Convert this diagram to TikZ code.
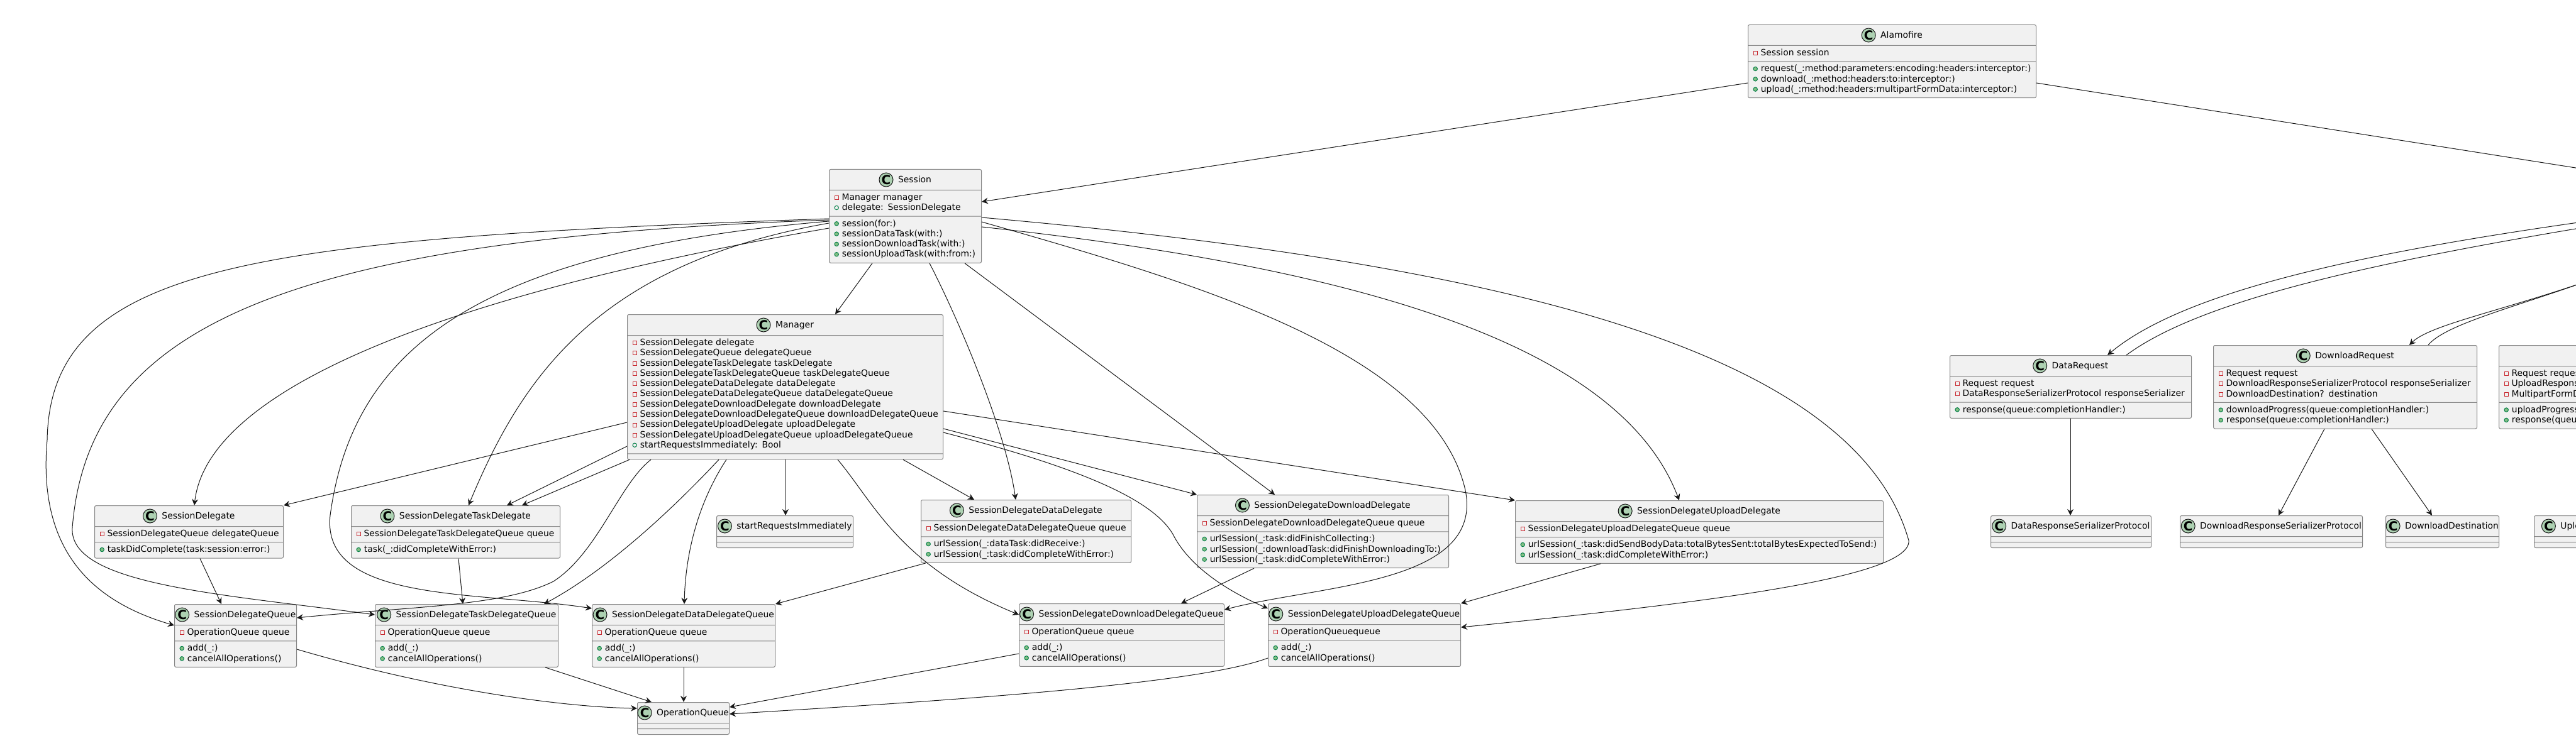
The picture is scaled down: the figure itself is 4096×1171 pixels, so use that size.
\documentclass[tikz,border=0pt]{standalone}
\usepackage{fontspec}
\setmainfont{DejaVu Sans}
\usetikzlibrary{arrows.meta, shapes.multipart}
\definecolor{boxfill}{HTML}{F1F1F1}
\definecolor{boxline}{HTML}{858585}
\definecolor{linecol}{HTML}{181818}
\definecolor{badgegreen}{HTML}{ADD1B2}
\definecolor{privred}{HTML}{C82930}
\definecolor{pubgreen}{HTML}{038048}
\definecolor{pubfill}{HTML}{84BE84}
\tikzset{>={Stealth[length=5pt,width=5pt,inset=1.7pt]}}
\tikzset{
  umlclass/.style={rectangle split, rectangle split parts=3, draw=boxline, fill=boxfill,
    line width=0.5pt, rounded corners=1.2pt, text width=#1, inner xsep=4pt, inner ysep=2pt,
    anchor=north west, align=left, font=\fontsize{6.95pt}{8.15pt}\selectfont},
  assoc/.style={->, draw=linecol, line width=0.5pt}
}
\newcommand{\clsbadge}{\makebox[11pt]{\tikz[baseline=-2.35pt]\draw[fill=badgegreen,draw=linecol,line width=0.5pt] (0pt,0pt) circle (5.5pt);}\hspace{-11pt}\makebox[11pt]{\raisebox{-1.3pt}{\fontsize{10pt}{10pt}\selectfont\bfseries C}}}
\newcommand{\privicon}{\tikz[baseline=0pt]\draw[draw=privred,line width=0.5pt,sharp corners] (0pt,0.4pt) rectangle (3pt,3.4pt);}
\newcommand{\pubficon}{\tikz[baseline=0pt]\draw[draw=pubgreen,line width=0.5pt] (1.6pt,2.1pt) circle (1.6pt);}
\newcommand{\pubmicon}{\tikz[baseline=0pt]\draw[draw=pubgreen,fill=pubfill,line width=0.5pt] (1.6pt,2.1pt) circle (1.6pt);}
\newcommand{\privrow}[1]{\mbox{\strut\privicon\hspace{2.5pt}#1}}
\newcommand{\pubrow}[1]{\mbox{\strut\pubficon\hspace{2.5pt}#1}}
\newcommand{\methrow}[1]{\mbox{\strut\pubmicon\hspace{2.5pt}#1}}
\newcommand{\clstitle}[1]{\noindent\makebox[\hsize]{\rule[-3.65pt]{0pt}{12pt}\clsbadge\hspace{4pt}#1}}

\begin{document}
\begin{tikzpicture}[x=0.5pt, y=-0.5pt]
    \useasboundingbox (0,0) rectangle (4096,1171);
    \clip (0,0) rectangle (4096,1171);

    \node[umlclass=221pt] (Alamofire) at (2779,39) {\clstitle{Alamofire}
      \nodepart{second}\privrow{Session session}
      \nodepart{third}\methrow{request(\_:method:parameters:encoding:headers:interceptor:)}\\
      \methrow{download(\_:method:headers:to:interceptor:)}\\
      \methrow{upload(\_:method:headers:multipartFormData:interceptor:)}};
    \node[umlclass=113pt] (Session) at (1318,269) {\clstitle{Session}
      \nodepart{second}\privrow{Manager manager}\\
      \pubrow{delegate: SessionDelegate}
      \nodepart{third}\methrow{session(for:)}\\
      \methrow{sessionDataTask(with:)}\\
      \methrow{sessionDownloadTask(with:)}\\
      \methrow{sessionUploadTask(with:from:)}};
    \node[umlclass=243pt] (Manager) at (997,500) {\clstitle{Manager}
      \nodepart{second}\privrow{SessionDelegate delegate}\\
      \privrow{SessionDelegateQueue delegateQueue}\\
      \privrow{SessionDelegateTaskDelegate taskDelegate}\\
      \privrow{SessionDelegateTaskDelegateQueue taskDelegateQueue}\\
      \privrow{SessionDelegateDataDelegate dataDelegate}\\
      \privrow{SessionDelegateDataDelegateQueue dataDelegateQueue}\\
      \privrow{SessionDelegateDownloadDelegate downloadDelegate}\\
      \privrow{SessionDelegateDownloadDelegateQueue downloadDelegateQueue}\\
      \privrow{SessionDelegateUploadDelegate uploadDelegate}\\
      \privrow{SessionDelegateUploadDelegateQueue uploadDelegateQueue}\\
      \pubrow{startRequestsImmediately: Bool}
      \nodepart{third}};

    \node[umlclass=142pt] (SDelegate) at (150,804) {\clstitle{SessionDelegate}
      \nodepart{second}\privrow{SessionDelegateQueue delegateQueue}
      \nodepart{third}\methrow{taskDidComplete(task:session:error:)}};
    \node[umlclass=158pt] (TaskDelegate) at (558,804) {\clstitle{SessionDelegateTaskDelegate}
      \nodepart{second}\privrow{SessionDelegateTaskDelegateQueue queue}
      \nodepart{third}\methrow{task(\_:didCompleteWithError:)}};
    \node[umlclass=100.5pt] (StartReq) at (1139,820) {\clstitle{startRequestsImmediately}
      \nodepart{second}\nodepart{third}};
    \node[umlclass=159pt] (DataDelegate) at (1464,795) {\clstitle{SessionDelegateDataDelegate}
      \nodepart{second}\privrow{SessionDelegateDataDelegateQueue queue}
      \nodepart{third}\methrow{urlSession(\_:dataTask:didReceive:)}\\
      \methrow{urlSession(\_:task:didCompleteWithError:)}};
    \node[umlclass=192pt] (DownloadDelegate) at (1903,787) {\clstitle{SessionDelegateDownloadDelegate}
      \nodepart{second}\privrow{SessionDelegateDownloadDelegateQueue queue}
      \nodepart{third}\methrow{urlSession(\_:task:didFinishCollecting:)}\\
      \methrow{urlSession(\_:downloadTask:didFinishDownloadingTo:)}\\
      \methrow{urlSession(\_:task:didCompleteWithError:)}};
    \node[umlclass=284.5pt] (UploadDelegate) at (2409,796) {\clstitle{SessionDelegateUploadDelegate}
      \nodepart{second}\privrow{SessionDelegateUploadDelegateQueue queue}
      \nodepart{third}\methrow{urlSession(\_:task:didSendBodyData:totalBytesSent:totalBytesExpectedToSend:)}\\
      \methrow{urlSession(\_:task:didCompleteWithError:)}};

    \node[umlclass=89pt] (SDQueue) at (277,961) {\clstitle{SessionDelegateQueue}
      \nodepart{second}\privrow{OperationQueue queue}
      \nodepart{third}\methrow{add(\_:)}\\
      \methrow{cancelAllOperations()}};
    \node[umlclass=137.5pt] (TaskQueue) at (596,961) {\clstitle{SessionDelegateTaskDelegateQueue}
      \nodepart{second}\privrow{OperationQueue queue}
      \nodepart{third}\methrow{add(\_:)}\\
      \methrow{cancelAllOperations()}};
    \node[umlclass=137.5pt] (DataQueue) at (941,961) {\clstitle{SessionDelegateDataDelegateQueue}
      \nodepart{second}\privrow{OperationQueue queue}
      \nodepart{third}\methrow{add(\_:)}\\
      \methrow{cancelAllOperations()}};
    \node[umlclass=155pt] (DownloadQueue) at (1620,960) {\clstitle{SessionDelegateDownloadDelegateQueue}
      \nodepart{second}\privrow{OperationQueue queue}
      \nodepart{third}\methrow{add(\_:)}\\
      \methrow{cancelAllOperations()}};
    \node[umlclass=145pt] (UploadQueue) at (2016,960) {\clstitle{SessionDelegateUploadDelegateQueue}
      \nodepart{second}\privrow{OperationQueuequeue}
      \nodepart{third}\methrow{add(\_:)}\\
      \methrow{cancelAllOperations()}};
    \node[umlclass=65pt] (OpQueue) at (1013,1117) {\clstitle{OperationQueue}
      \nodepart{second}\nodepart{third}};

    \node[umlclass=184pt] (DataReq) at (3100,565) {\clstitle{DataRequest}
      \nodepart{second}\privrow{Request request}\\
      \privrow{DataResponseSerializerProtocol responseSerializer}
      \nodepart{third}\methrow{response(queue:completionHandler:)}};
    \node[umlclass=201.5pt] (DownloadReq) at (3519,549) {\clstitle{DownloadRequest}
      \nodepart{second}\privrow{Request request}\\
      \privrow{DownloadResponseSerializerProtocol responseSerializer}\\
      \privrow{DownloadDestination? destination}
      \nodepart{third}\methrow{downloadProgress(queue:completionHandler:)}\\
      \methrow{response(queue:completionHandler:)}};
    \node[umlclass=202pt] (UploadReq) at (3973,549) {\clstitle{UploadRequest}
      \nodepart{second}\privrow{Request request}\\
      \privrow{UploadResponseSerializerProtocol responseSerializer}\\
      \privrow{MultipartFormData multipartFormData}
      \nodepart{third}\methrow{uploadProgress(queue:completionHandler:)}\\
      \methrow{response(queue:completionHandler:)}};
    \node[umlclass=119.5pt] (DataRSP) at (3165,820) {\clstitle{DataResponseSerializerProtocol}
      \nodepart{second}\nodepart{third}};
    \node[umlclass=137pt] (DownloadRSP) at (3466,820) {\clstitle{DownloadResponseSerializerProtocol}
      \nodepart{second}\nodepart{third}};
    \node[umlclass=82pt] (DownloadDest) at (3793,820) {\clstitle{DownloadDestination}
      \nodepart{second}\nodepart{third}};
    \node[umlclass=137pt] (UploadRSP) at (4029,820) {\clstitle{UploadResponseSerializerProtocol}
      \nodepart{second}\nodepart{third}};
    \coordinate (Request) at (4400,315);

    \draw[assoc] ([shift={(0,93)}]Alamofire.north west) -- ([shift={(0,52)}]Session.north east);
    \draw[assoc] ([shift={(0,93)}]Alamofire.north east) -- (Request);
    \draw[assoc] (Request) .. controls (3900,375) and (3500,440) .. ([shift={(251,0)}]DataReq.north west);
    \draw[assoc] ([shift={(281,0)}]DataReq.north west) .. controls (3530,455) and (3920,390) .. (Request);
    \draw[assoc] (Request) .. controls (4150,470) and (3880,500) .. ([shift={(312,0)}]DownloadReq.north west);
    \draw[assoc] ([shift={(342,0)}]DownloadReq.north west) .. controls (3905,495) and (4170,458) .. (Request);

    \draw[assoc] ([shift={(69,0)}]Session.south west) -- ([shift={(331,0)}]Manager.north west);
    \draw[assoc] ([shift={(160,0)}]Session.south west) .. controls (1530,520) and (1600,690) .. ([shift={(151,0)}]DataDelegate.north west);
    \draw[assoc] ([shift={(216,0)}]Session.south west) -- ([shift={(124,0)}]DownloadDelegate.north west);
    \draw[assoc] ([shift={(0,84)}]Session.north east) .. controls (1900,450) and (2280,560) .. (2330,780)
      .. controls (2360,930) and (2100,930) .. ([shift={(0,10)}]DownloadQueue.north east);
    \draw[assoc] ([shift={(0,92)}]Session.north east) .. controls (2200,430) and (2580,560) .. ([shift={(261,0)}]UploadDelegate.north west);
    \draw[assoc] ([shift={(0,77)}]Session.north east) .. controls (2400,420) and (2950,560) .. (3035,860)
      .. controls (3040,920) and (2700,960) .. ([shift={(0,38)}]UploadQueue.north east);
    \draw[assoc] ([shift={(0,79)}]Session.north west) .. controls (400,380) and (80,420) .. (75,700)
      .. controls (60,870) and (140,955) .. ([shift={(0,34)}]SDQueue.north west);
    \draw[assoc] ([shift={(0,81)}]Session.north west) .. controls (450,380) and (140,520) .. (115,840)
      .. controls (110,930) and (350,945) .. ([shift={(0,17)}]TaskQueue.north west);
    \draw[assoc] ([shift={(0,83)}]Session.north west) .. controls (750,400) and (560,560) .. (525,820)
      .. controls (510,960) and (760,940) .. ([shift={(0,7)}]DataQueue.north west);
    \draw[assoc] ([shift={(0,86)}]Session.north west) .. controls (950,420) and (830,600) .. ([shift={(187,0)}]TaskDelegate.north west);
    \draw[assoc] ([shift={(0,94)}]Session.north west) .. controls (700,470) and (330,620) .. ([shift={(159,0)}]SDelegate.north west);

    \draw[assoc] ([shift={(0,172)}]Manager.north west) -- (SDelegate.north east);
    \draw[assoc] ([shift={(0,210)}]Manager.north west) -- ([shift={(248,0)}]TaskDelegate.north west);
    \draw[assoc] ([shift={(4,0)}]Manager.south west) -- ([shift={(272,0)}]TaskDelegate.north west);
    \draw[assoc] ([shift={(38,0)}]Manager.south west) .. controls (985,770) and (950,880) .. (880,925)
      .. controls (800,965) and (650,965) .. ([shift={(0,22)}]SDQueue.north east);
    \draw[assoc] ([shift={(146,0)}]Manager.south west) .. controls (1060,820) and (960,910) .. ([shift={(269,0)}]TaskQueue.north west);
    \draw[assoc] ([shift={(158,0)}]Manager.south west) .. controls (1110,800) and (1090,880) .. ([shift={(147,0)}]DataQueue.north west);
    \draw[assoc] ([shift={(252,0)}]Manager.south west) -- ([shift={(110,0)}]StartReq.north west);
    \draw[assoc] ([shift={(335,0)}]Manager.south west) .. controls (1390,800) and (1430,900) .. ([shift={(0,18)}]DownloadQueue.north west);
    \draw[assoc] ([shift={(439,0)}]Manager.south west) -- ([shift={(85,0)}]DataDelegate.north west);
    \draw[assoc] ([shift={(0,154)}]Manager.north east) -- (UploadDelegate.north west);
    \draw[assoc] ([shift={(0,182)}]Manager.north east) -- (DownloadDelegate.north west);
    \draw[assoc] ([shift={(0,188)}]Manager.north east) .. controls (1700,740) and (1830,790) .. (1865,850)
      .. controls (1890,900) and (1950,940) .. ([shift={(0,8)}]UploadQueue.north west);

    \draw[assoc] ([shift={(168,0)}]SDelegate.south west) -- ([shift={(75,0)}]SDQueue.north west);
    \draw[assoc] ([shift={(171,0)}]TaskDelegate.south west) -- ([shift={(140,0)}]TaskQueue.north west);
    \draw[assoc] ([shift={(8,0)}]DataDelegate.south west) -- (DataQueue.north east);
    \draw[assoc] ([shift={(91,0)}]DownloadDelegate.south west) -- ([shift={(258,0)}]DownloadQueue.north west);
    \draw[assoc] ([shift={(136,0)}]UploadDelegate.south west) -- (UploadQueue.north east);

    \draw[assoc] ([shift={(0,72)}]SDQueue.north east) .. controls (700,1100) and (900,1125) .. ([shift={(0,10)}]OpQueue.north west);
    \draw[assoc] ([shift={(271,0)}]TaskQueue.south west) -- ([shift={(23,0)}]OpQueue.north west);
    \draw[assoc] ([shift={(146,0)}]DataQueue.south west) -- ([shift={(74,0)}]OpQueue.north west);
    \draw[assoc] ([shift={(0,80)}]DownloadQueue.north west) -- ([shift={(0,8)}]OpQueue.north east);
    \draw[assoc] ([shift={(0,87)}]UploadQueue.north west) .. controls (1900,1090) and (1500,1115) .. ([shift={(0,19)}]OpQueue.north east);

    \draw[assoc] ([shift={(192,0)}]DataReq.south west) -- ([shift={(127,0)}]DataRSP.north west);
    \draw[assoc] ([shift={(177,0)}]DownloadReq.south west) -- ([shift={(157,0)}]DownloadRSP.north west);
    \draw[assoc] ([shift={(252,0)}]DownloadReq.south west) -- ([shift={(74,0)}]DownloadDest.north west);
\end{tikzpicture}
\end{document}
